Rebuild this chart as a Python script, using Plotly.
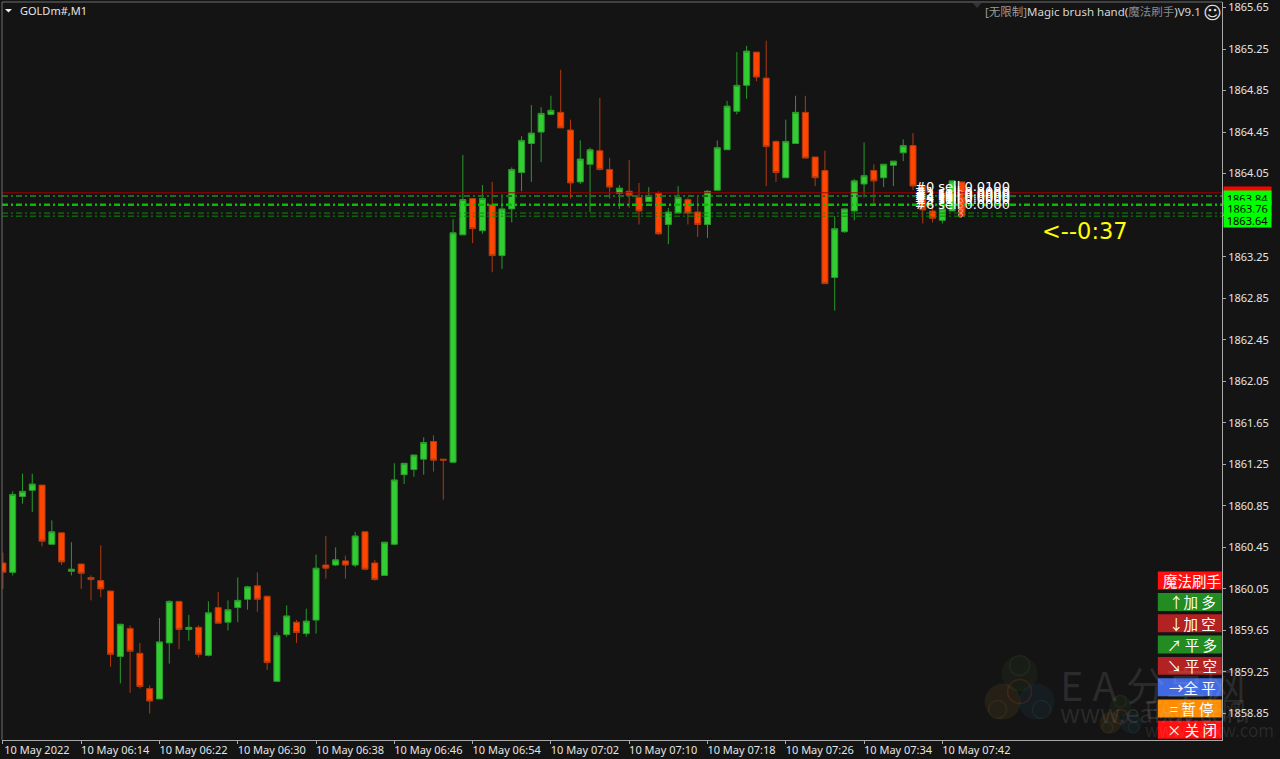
import plotly.graph_objects as go

open_ = [1860.30,1860.21,1860.94,1861.00,1861.05,1860.48,1860.59,1860.22,1860.29,1860.16,1860.13,1860.03,1859.40,1859.67,1859.43,1859.09,1858.99,1859.53,1859.93,1859.66,1859.68,1859.41,1859.87,1859.73,1859.87,1859.95,1860.08,1859.98,1859.16,1859.61,1859.73,1859.62,1859.75,
1860.28,1860.28,1860.32,1860.28,1860.60,1860.30,1860.18,1860.48,1861.15,1861.20,1861.30,1861.47,1861.30,1861.27,1863.46,1863.81,1863.50,1863.75,1863.26,1863.71,1864.06,1864.34,1864.45,1864.62,1864.64,1864.47,1863.97,1864.14,1864.27,1864.09,1863.86,1863.88,1863.82,
1863.78,1863.86,1863.56,1863.67,1863.80,1863.68,1863.56,1863.89,1864.28,1864.65,1864.90,1865.22,1864.97,1864.36,1864.01,1864.34,1864.64,1864.21,1864.08,1863.05,1863.49,1863.69,1863.95,1864.08,1864.01,1864.13,1864.25,1864.32,1863.93,1863.69,1863.60,1863.69,1863.97]
high = [1860.40,1860.99,1861.16,1861.16,1861.05,1860.71,1860.59,1860.50,1860.29,1860.18,1860.47,1860.03,1859.71,1859.70,1859.53,1859.12,1859.77,1859.94,1859.93,1859.80,1859.70,1859.93,1860.02,1859.94,1860.16,1860.08,1860.21,1859.98,1859.63,1859.89,1859.75,1859.86,1860.38,
1860.56,1860.45,1860.37,1860.60,1860.60,1860.33,1860.50,1861.26,1861.26,1861.34,1861.51,1861.53,1861.30,1863.61,1864.23,1863.81,1863.94,1863.97,1863.85,1864.11,1864.41,1864.71,1864.69,1864.80,1865.05,1864.57,1864.37,1864.30,1864.78,1864.20,1863.94,1864.18,1863.96,
1863.92,1863.88,1863.72,1863.93,1863.82,1863.84,1863.89,1864.37,1864.75,1865.22,1865.28,1865.22,1865.33,1864.37,1864.57,1864.80,1864.80,1864.21,1864.27,1863.64,1863.71,1864.00,1864.35,1864.14,1864.14,1864.17,1864.38,1864.44,1863.93,1863.80,1863.80,1863.98,1863.97]
low = [1860.05,1860.18,1860.87,1860.79,1860.46,1860.48,1860.28,1860.18,1860.05,1859.94,1859.97,1859.30,1859.14,1859.05,1859.09,1858.85,1858.99,1859.33,1859.47,1859.55,1859.39,1859.40,1859.72,1859.65,1859.73,1859.85,1859.83,1859.27,1859.16,1859.59,1859.53,1859.59,1859.62,
1860.15,1860.27,1860.15,1860.26,1860.23,1860.13,1860.18,1860.47,1861.06,1861.13,1861.15,1861.18,1860.91,1861.27,1863.46,1863.38,1863.47,1863.10,1863.13,1863.58,1863.88,1863.97,1864.16,1864.62,1864.49,1863.81,1863.95,1863.68,1864.08,1863.81,1863.71,1863.72,1863.56,
1863.78,1863.46,1863.37,1863.67,1863.56,1863.44,1863.43,1863.89,1864.28,1864.62,1864.77,1864.94,1863.93,1863.97,1864.01,1864.34,1864.20,1863.93,1862.99,1862.73,1863.48,1863.60,1863.82,1863.74,1863.92,1863.93,1864.17,1863.89,1863.57,1863.58,1863.57,1863.69,1863.64]
close = [1860.21,1860.96,1860.99,1861.06,1860.51,1860.60,1860.31,1860.24,1860.20,1860.14,1860.05,1859.42,1859.71,1859.45,1859.11,1858.97,1859.54,1859.93,1859.66,1859.68,1859.42,1859.82,1859.72,1859.85,1859.94,1860.07,1859.95,1859.34,1859.60,1859.79,1859.63,1859.74,1860.25,
1860.25,1860.33,1860.28,1860.56,1860.24,1860.14,1860.50,1861.10,1861.26,1861.34,1861.46,1861.29,1861.29,1863.48,1863.80,1863.52,1863.81,1863.26,1863.71,1864.09,1864.37,1864.44,1864.63,1864.66,1864.49,1863.96,1864.19,1864.28,1864.09,1863.92,1863.91,1863.84,1863.69,
1863.84,1863.47,1863.68,1863.82,1863.67,1863.56,1863.88,1864.30,1864.70,1864.90,1865.23,1864.98,1864.31,1864.06,1864.36,1864.64,1864.20,1864.01,1862.99,1863.52,1863.71,1863.98,1864.03,1863.98,1864.14,1864.17,1864.32,1863.93,1863.70,1863.62,1863.71,1863.98,1863.64]
bars = list(range(len(close)))

price_ticks = [1865.65,1865.25,1864.85,1864.45,1864.05,1863.65,1863.25,1862.85,1862.45,1862.05,1861.65,1861.25,1860.85,1860.45,1860.05,1859.65,1859.25,1858.85]
price_tick_text = [f"{v:.2f}" for v in price_ticks]
time_ticks = [0,8,16,24,32,40,48,56,64,72,80,88,96]
time_tick_text = ["10 May 2022","10 May 06:14","10 May 06:22","10 May 06:30","10 May 06:38","10 May 06:46","10 May 06:54","10 May 07:02","10 May 07:10","10 May 07:18","10 May 07:26","10 May 07:34","10 May 07:42"]

order_prices = [1863.93,1863.88,1863.86,1863.84,1863.82,1863.80,1863.75]
order_labels = ["#0 sell 0.0100","#1 sell 0.0000","#2 sell 0.0000","#3 sell 0.0000","#4 sell 0.0000","#5 sell 0.0000","#6 sell 0.0000"]
marker_prices = [1863.87,1863.79,1863.74,1863.69,1863.65]

button_labels = ["魔法刷手","↑加 多","↓加 空","↗ 平 多","↘ 平 空","→全 平","= 暂 停","× 关 闭"]
button_colors = ["#ff0f0f","#228b22","#b22222","#228b22","#b22222","#4169e1","#ff8c00","#ff0f0f"]

BG = "#141414"
W, H = 1280, 759
L, R, T, B = 2.0, 1222.5, 2.0, 740.5
X_STEP = 9.79
X0 = 2.9
PPU = 103.9

def px(x):
    return (x - L) / (R - L)
def py(y):
    return 1 - (y - T) / (B - T)

fig = go.Figure()
fig.add_trace(go.Candlestick(
    x=bars, open=open_, high=high, low=low, close=close,
    increasing=dict(line=dict(color="#2a9a2a", width=1), fillcolor="#32cd32"),
    decreasing=dict(line=dict(color="#b03a10", width=1), fillcolor="#ff4500"),
    showlegend=False, hoverinfo="skip"))
fig.add_trace(go.Scatter(
    x=[97.85]*len(marker_prices), y=marker_prices, mode="markers",
    marker=dict(symbol="circle-open", size=4, color="#ff9a9a", line=dict(width=1)),
    showlegend=False, hoverinfo="skip"))

shapes = []
def line(y, color, width, dash):
    shapes.append(dict(type="line", xref="paper", x0=0, x1=1, yref="y", y0=y, y1=y,
                       line=dict(color=color, width=width, dash=dash), layer="above"))
DD = "6px,3px,2px,3px"
line(1863.835, "#1c6e1c", 2, DD)
line(1863.865, "#a00000", 1, "solid")
line(1863.75, "#00c000", 2.5, DD)
line(1863.67, "#009400", 1, DD)
line(1863.64, "#009400", 1, DD)

# frame (left + top dim)
shapes.append(dict(type="line", xref="paper", yref="paper", x0=0, x1=0, y0=0, y1=1, line=dict(color="#6e6e6e", width=1)))
shapes.append(dict(type="line", xref="paper", yref="paper", x0=0, x1=1, y0=1, y1=1, line=dict(color="#6e6e6e", width=1)))

# shift marker
shapes.append(dict(type="path", xref="paper", yref="paper", fillcolor="#333333", line=dict(width=0),
                   path=f"M {px(973)} {py(3)} L {px(982)} {py(3)} L {px(977.5)} {py(8)} Z"))
# menu triangle
shapes.append(dict(type="path", xref="paper", yref="paper", fillcolor="#f0f0f0", line=dict(width=0),
                   path=f"M {px(5)} {py(9)} L {px(12)} {py(9)} L {px(8.5)} {py(12.5)} Z"))

# buttons
for i, c in enumerate(button_colors):
    top = 572 + i * 21.33
    shapes.append(dict(type="rect", xref="paper", yref="paper", x0=px(1158.3), x1=px(1222.3),
                       y0=py(top + 18), y1=py(top), fillcolor=c, line=dict(width=0), layer="above"))

# watermark logos
def logo(cx, cy, s):
    def circ(dx, dy, r, fill=None, stroke=None):
        shapes.append(dict(type="circle", xref="paper", yref="paper", layer="above",
                           x0=px(cx+(dx-r)*s), x1=px(cx+(dx+r)*s), y0=py(cy+(dy+r)*s), y1=py(cy+(dy-r)*s),
                           fillcolor=fill or "rgba(0,0,0,0)",
                           line=dict(color=stroke or "rgba(0,0,0,0)", width=1.5 if stroke else 0)))
    circ(0, -16, 18, "rgba(60,110,50,0.11)")
    circ(-17, 12, 18, "rgba(170,140,40,0.11)")
    circ(17, 12, 18, "rgba(40,110,150,0.11)")
    circ(0, -24, 10, None, "rgba(120,150,110,0.09)")
    circ(-22, 20, 9, None, "rgba(170,160,110,0.09)")
    circ(22, 20, 9, None, "rgba(110,150,170,0.09)")
    circ(0, 2, 12, None, "rgba(170,50,40,0.25)")
logo(1020, 690, 1.0)
logo(1121, 716, 0.6)

ann = []
def price_label(y, text, bg, shift):
    ann.append(dict(xref="paper", x=1, xanchor="left", yref="y", y=y, yanchor="middle", yshift=shift, xshift=0.5,
                    text=text, showarrow=False, bgcolor=bg, width=47, height=14, borderpad=0, align="center",
                    font=dict(family="Noto Sans", size=11, color="#000000")))
price_label(1863.86, "1863.86", "#ff0000", -1)
price_label(1863.84, "1863.84", "#00ff00", -3)
price_label(1863.75, "1863.76", "#00ff00", -3.5)
price_label(1863.64, "1863.64", "#00ff00", -3.7)

for p, t in zip(order_prices, order_labels):
    ann.append(dict(xref="x", x=92.95, xanchor="left", yref="y", y=p, yanchor="middle", text=t, showarrow=False,
                    font=dict(family="DejaVu Sans", size=13, color="#ffffff")))

ann.append(dict(xref="paper", x=px(1040), xanchor="left", yref="paper", y=py(231), yanchor="middle", text="<--0:37",
                showarrow=False, font=dict(family="DejaVu Sans", size=22.5, color="#ffff00")))
ann.append(dict(xref="paper", x=px(18), xanchor="left", yref="paper", y=py(11), yanchor="middle", text="GOLDm#,M1",
                showarrow=False, font=dict(family="Noto Sans", size=11, color="#e6e6e6")))
ann.append(dict(xref="paper", x=px(1203), xanchor="right", yref="paper", y=py(12), yanchor="middle",
                text='<span style="color:#9a9a9a">[无限制]</span>Magic brush hand(<span style="color:#8a8a8a">魔法刷手</span>)V9.1',
                showarrow=False, font=dict(family="Noto Sans, Noto Sans CJK SC", size=11.5, color="#d6d6d6")))
ann.append(dict(xref="paper", x=px(1213), xanchor="center", yref="paper", y=py(13), yanchor="middle", text="☺",
                showarrow=False, font=dict(family="DejaVu Sans", size=18, color="#e6e6e6")))

for i, t in enumerate(button_labels):
    top = 572 + i * 21.33
    ann.append(dict(xref="paper", x=px(1192.5), xanchor="center", yref="paper", y=py(top + 9), yanchor="middle",
                    text=t, showarrow=False, font=dict(family="Noto Sans CJK SC", size=14.5, color="#ffffff")))

wm = "rgba(205,205,205,0.12)"
for text, x, y, size in [("E A 分享网", 1058, 684, 40), ("www.eafxw.com", 1058, 712, 25),
                         ("EA分享网", 1143, 709, 24), ("www.eafxw.com", 1143, 730, 17)]:
    ann.append(dict(xref="paper", x=px(x), xanchor="left", yref="paper", y=py(y), yanchor="middle", text=text,
                    showarrow=False, font=dict(family="Noto Sans CJK SC, Noto Sans", size=size, color=wm)))

fig.update_layout(
    width=W, height=H, autosize=False,
    margin=dict(l=L, r=W - R, t=T, b=H - B, pad=0, autoexpand=False),
    paper_bgcolor=BG, plot_bgcolor=BG, boxgap=0.12,
    showlegend=False, shapes=shapes, annotations=ann,
    font=dict(family="Noto Sans", size=11, color="#e4e4e4"),
    xaxis=dict(range=[(L - X0) / X_STEP, (R - X0) / X_STEP], rangeslider=dict(visible=False),
               tickmode="array", tickvals=time_ticks, ticktext=time_tick_text, ticks="outside", ticklen=3,
               tickcolor="#a8a8a8", showgrid=False, zeroline=False, showline=True, linecolor="#a8a8a8", linewidth=1,
               ticklabelshift=34, ticklabelstandoff=-3, ticklabeloverflow="allow", tickangle=0,
               tickfont=dict(family="Noto Sans", size=11, color="#e4e4e4")),
    yaxis=dict(range=[1858.85 - (B - 714) / PPU, 1858.85 + (714 - T) / PPU], side="right",
               tickmode="array", tickvals=price_ticks, ticktext=price_tick_text, ticks="outside", ticklen=3,
               tickcolor="#a8a8a8", showgrid=False, zeroline=False, showline=True, linecolor="#a8a8a8", linewidth=1,
               ticklabeloverflow="allow",
               tickfont=dict(family="Noto Sans", size=11, color="#e4e4e4")),
)

fig.write_html("out.html", config=dict(displayModeBar=False),
               post_script=f"document.body.style.margin='0';document.body.style.background='{BG}';document.body.style.overflow='hidden';")
